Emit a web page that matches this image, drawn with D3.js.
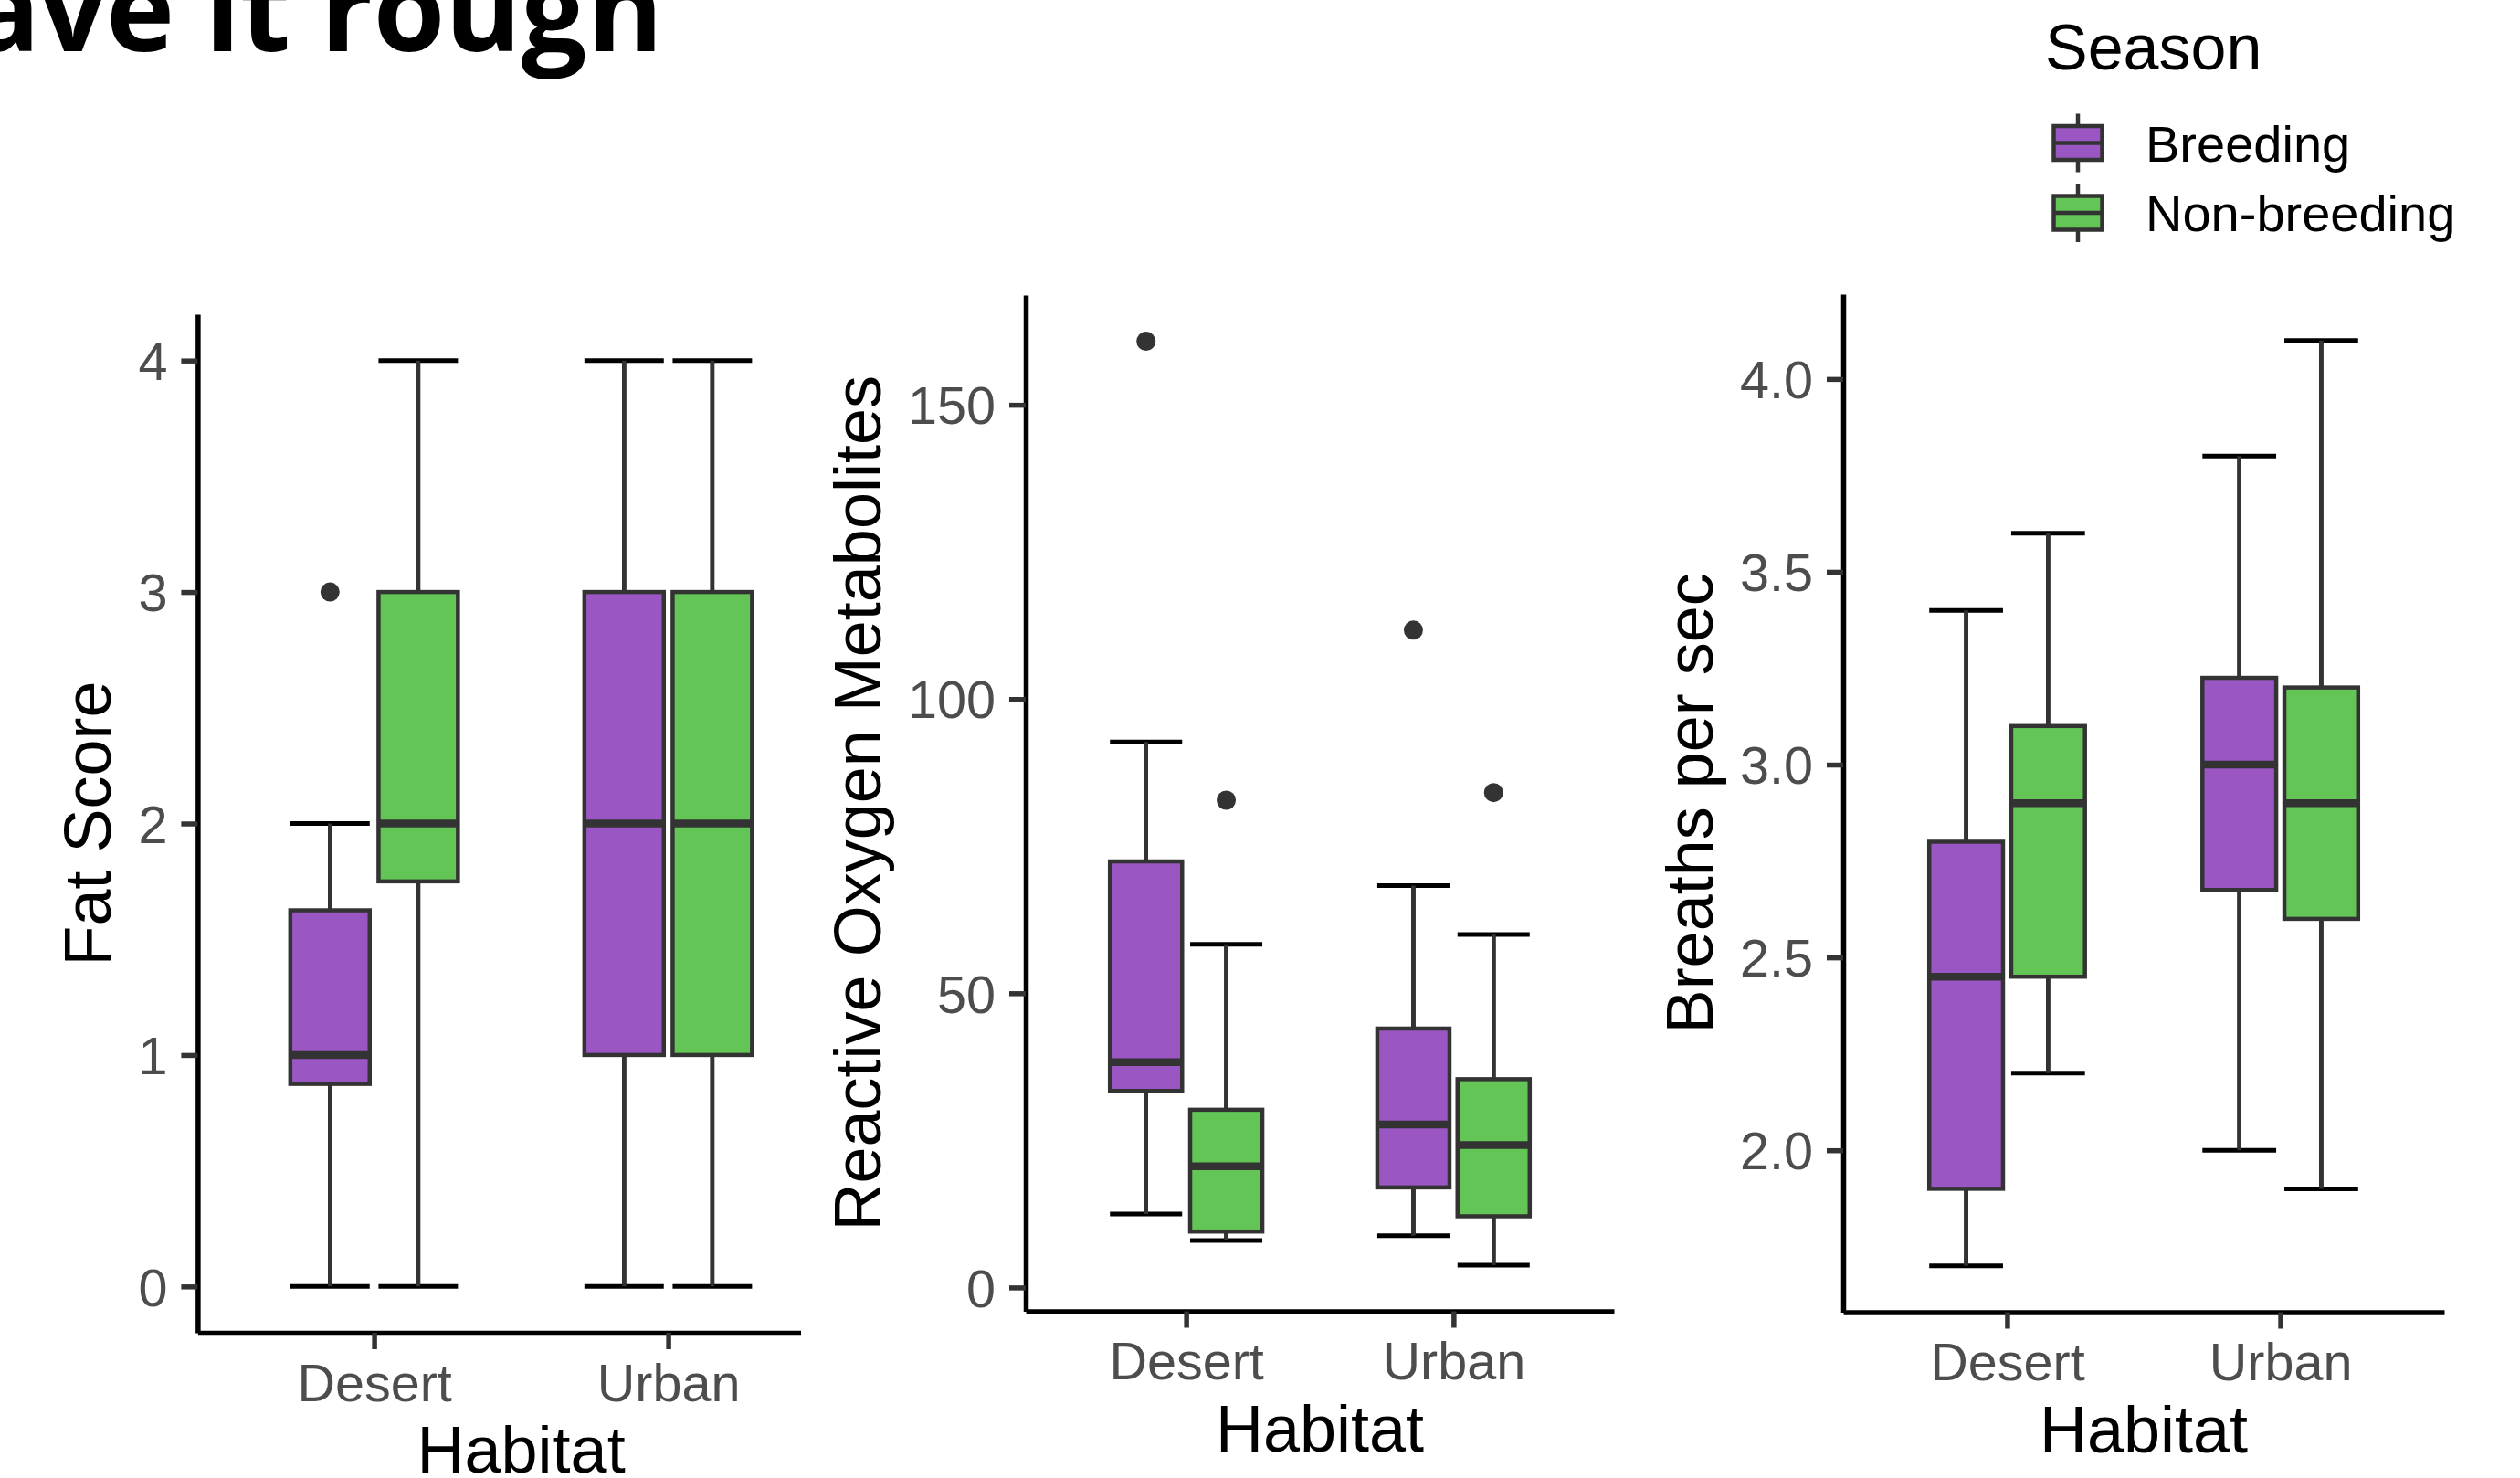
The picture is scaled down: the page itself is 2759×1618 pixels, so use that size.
<!DOCTYPE html>
<html>
<head>
<meta charset="utf-8">
<script src="https://cdn.jsdelivr.net/npm/d3@7"></script>
<style>
  body { margin: 0; background: #fff; }
  svg { display: block; font-family: "Liberation Sans", Arial, sans-serif; }
</style>
</head>
<body>
<svg id="chart" width="2759" height="1618"></svg>
<script>
//##### data #####
var habitats = ["Desert", "Urban"];
var seasons = ["Breeding", "Non-breeding"];
var seasonColors = { "Breeding": "#9a57c4", "Non-breeding": "#62c556" };

// five-number summaries: [lower whisker, q1, median, q3, upper whisker]
// order: Desert/Breeding, Desert/Non-breeding, Urban/Breeding, Urban/Non-breeding
var fatStats = [[0, 0.875, 1, 1.625, 2], [0, 1.75, 2, 3, 4], [0, 1, 2, 3, 4], [0, 1, 2, 3, 4]];
var fatOutliers = [[3], [], [], []];
var fatTicks = [0, 1, 2, 3, 4];

var romStats = [[12.5, 33.4, 38.3, 72.4, 92.7], [8.0, 9.5, 20.6, 30.2, 58.3], [8.8, 17.0, 27.7, 44.0, 68.3], [3.8, 12.1, 24.2, 35.4, 60.0]];
var romOutliers = [[160.8], [82.8], [111.7], [84.1]];
var romTicks = [0, 50, 100, 150];

var breathStats = [[1.7, 1.9, 2.45, 2.8, 3.4], [2.2, 2.45, 2.9, 3.1, 3.6], [2.0, 2.675, 3.0, 3.225, 3.8], [1.9, 2.6, 2.9, 3.2, 4.1]];
var breathOutliers = [[], [], [], []];
var breathTicks = [2.0, 2.5, 3.0, 3.5, 4.0];

var svg = d3.select("#chart");
svg.append("rect").attr("width", 2759).attr("height", 1618).attr("fill", "#fff");

// title, mostly pushed off the top-left edge like the original
svg.append("text")
  .attr("x", 726)
  .attr("y", 56)
  .attr("text-anchor", "end")
  .style("font-family", '"Open Sans", sans-serif')
  .style("font-weight", 700)
  .style("font-size", "127px")
  .text("Birds have it rough");

var panels = [
  { stats: fatStats, outliers: fatOutliers, ticks: fatTicks, fmt: d3.format("d"), title: "Fat Score",
    left: 216.4, right: 924.8, top: 344, bottom: 1459, clip: 877 },
  { stats: romStats, outliers: romOutliers, ticks: romTicks, fmt: d3.format("d"), title: "Reactive Oxygen Metabolites",
    left: 1123, right: 1767, top: 323, bottom: 1435.5 },
  { stats: breathStats, outliers: breathOutliers, ticks: breathTicks, fmt: d3.format(".1f"), title: "Breaths per sec",
    left: 2018, right: 2676, top: 322, bottom: 1436.5 }
];

panels.forEach(function(p, k) {
  drawPanel(p, k);
});

function drawPanel(p, k) {
  var g = svg.append("g");
  if (p.clip) {
    svg.append("clipPath").attr("id", "clip" + k)
      .append("rect").attr("x", 0).attr("y", 0).attr("width", p.clip).attr("height", 1618);
    g.attr("clip-path", "url(#clip" + k + ")");
  }

  // y domain = data range + 5% each side
  var all = [];
  p.stats.forEach(function(s) { all = all.concat(s); });
  p.outliers.forEach(function(o) { all = all.concat(o); });
  var lo = d3.min(all), hi = d3.max(all), pad = (hi - lo) * 0.05;

  var y = d3.scaleLinear().domain([lo - pad, hi + pad]).range([p.bottom, p.top]);
  // discrete positions 1,2 with 0.6 expansion each side
  var x = d3.scaleLinear().domain([0.4, 2.6]).range([p.left, p.right]);

  var boxes = p.stats.map(function(s, i) {
    var h = Math.floor(i / 2), sz = i % 2;
    return {
      season: seasons[sz],
      cx: h + 1 + (sz === 0 ? -0.15 : 0.15),
      lower: s[0], q1: s[1], median: s[2], q3: s[3], upper: s[4],
      outliers: p.outliers[i]
    };
  });
  var half = 0.135;

  // errorbar (black) underneath
  var eb = g.append("g").selectAll("g").data(boxes).enter().append("g");
  eb.append("line")
    .attr("x1", function(d) { return x(d.cx); })
    .attr("x2", function(d) { return x(d.cx); })
    .attr("y1", function(d) { return y(d.lower); })
    .attr("y2", function(d) { return y(d.upper); })
    .attr("stroke", "#000").attr("stroke-width", 4.5);
  ["lower", "upper"].forEach(function(key) {
    eb.append("line")
      .attr("x1", function(d) { return x(d.cx - half); })
      .attr("x2", function(d) { return x(d.cx + half); })
      .attr("y1", function(d) { return y(d[key]); })
      .attr("y2", function(d) { return y(d[key]); })
      .attr("stroke", "#000").attr("stroke-width", 5);
  });

  var bx = g.append("g").selectAll("g").data(boxes).enter().append("g");
  // whiskers
  bx.append("line")
    .attr("x1", function(d) { return x(d.cx); })
    .attr("x2", function(d) { return x(d.cx); })
    .attr("y1", function(d) { return y(d.q3); })
    .attr("y2", function(d) { return y(d.upper); })
    .attr("stroke", "#333").attr("stroke-width", 4.5);
  bx.append("line")
    .attr("x1", function(d) { return x(d.cx); })
    .attr("x2", function(d) { return x(d.cx); })
    .attr("y1", function(d) { return y(d.q1); })
    .attr("y2", function(d) { return y(d.lower); })
    .attr("stroke", "#333").attr("stroke-width", 4.5);
  bx.append("rect")
    .attr("x", function(d) { return x(d.cx - half); })
    .attr("width", function(d) { return x(d.cx + half) - x(d.cx - half); })
    .attr("y", function(d) { return y(d.q3); })
    .attr("height", function(d) { return y(d.q1) - y(d.q3); })
    .attr("fill", function(d) { return seasonColors[d.season]; })
    .attr("stroke", "#333").attr("stroke-width", 4.5);
  bx.append("line")
    .attr("x1", function(d) { return x(d.cx - half); })
    .attr("x2", function(d) { return x(d.cx + half); })
    .attr("y1", function(d) { return y(d.median); })
    .attr("y2", function(d) { return y(d.median); })
    .attr("stroke", "#333").attr("stroke-width", 8.5);
  bx.selectAll("circle")
    .data(function(d) { return d.outliers.map(function(v) { return { cx: d.cx, v: v }; }); })
    .enter().append("circle")
    .attr("cx", function(d) { return x(d.cx); })
    .attr("cy", function(d) { return y(d.v); })
    .attr("r", 10.5)
    .attr("fill", "#333");

  // axes
  var yAxis = g.append("g")
    .attr("transform", "translate(" + p.left + ",0)")
    .call(d3.axisLeft(y).tickValues(p.ticks).tickFormat(p.fmt).tickSize(18).tickSizeOuter(0).tickPadding(15));
  var xAxis = g.append("g")
    .attr("transform", "translate(0," + p.bottom + ")")
    .call(d3.axisBottom(x).tickValues([1, 2]).tickFormat(function(d) { return habitats[d - 1]; })
      .tickSize(18).tickSizeOuter(0).tickPadding(16));

  [yAxis, xAxis].forEach(function(ax) {
    ax.select(".domain").attr("stroke", "#000").attr("stroke-width", 5.5);
    ax.selectAll(".tick line").attr("stroke", "#333").attr("stroke-width", 5.5);
    ax.selectAll(".tick text")
      .attr("fill", "#4d4d4d")
      .style("font-size", "57.5px")
      .style("font-family", '"Liberation Sans", Arial, sans-serif');
  });
  yAxis.selectAll(".tick text").attr("dy", "0.36em");

  // axis titles
  var bb = yAxis.node().getBBox();
  var tx = p.left + bb.x - 30;
  g.append("text")
    .attr("transform", "translate(" + tx + "," + (p.top + p.bottom) / 2 + ") rotate(-90)")
    .attr("text-anchor", "middle")
    .style("font-size", "72px")
    .attr("fill", "#000")
    .text(p.title);
  g.append("text")
    .attr("x", (p.left + p.right) / 2)
    .attr("y", p.bottom + 153)
    .attr("text-anchor", "middle")
    .style("font-size", "72px")
    .attr("fill", "#000")
    .text("Habitat");
}

//##### legend #####
var legend = svg.append("g");
legend.append("text")
  .attr("x", 2239)
  .attr("y", 76)
  .style("font-size", "70px")
  .text("Season");

var key = legend.selectAll("g.key")
  .data(seasons)
  .enter()
  .append("g")
  .attr("class", "key")
  .attr("transform", function(d, i) {
    return "translate(2275," + (156.5 + i * 76.5) + ")";
  });
key.append("line")
  .attr("x1", 0).attr("x2", 0).attr("y1", -32).attr("y2", 32)
  .attr("stroke", "#333").attr("stroke-width", 4.5);
key.append("rect")
  .attr("x", -26.5).attr("y", -18.5).attr("width", 53).attr("height", 37)
  .attr("fill", function(d) { return seasonColors[d]; })
  .attr("stroke", "#333").attr("stroke-width", 4.5);
key.append("line")
  .attr("x1", -26.5).attr("x2", 26.5).attr("y1", 0).attr("y2", 0)
  .attr("stroke", "#333").attr("stroke-width", 4.5);
key.append("text")
  .attr("x", 74)
  .attr("y", 20)
  .style("font-size", "56px")
  .text(function(d) { return d; });
</script>
</body>
</html>
